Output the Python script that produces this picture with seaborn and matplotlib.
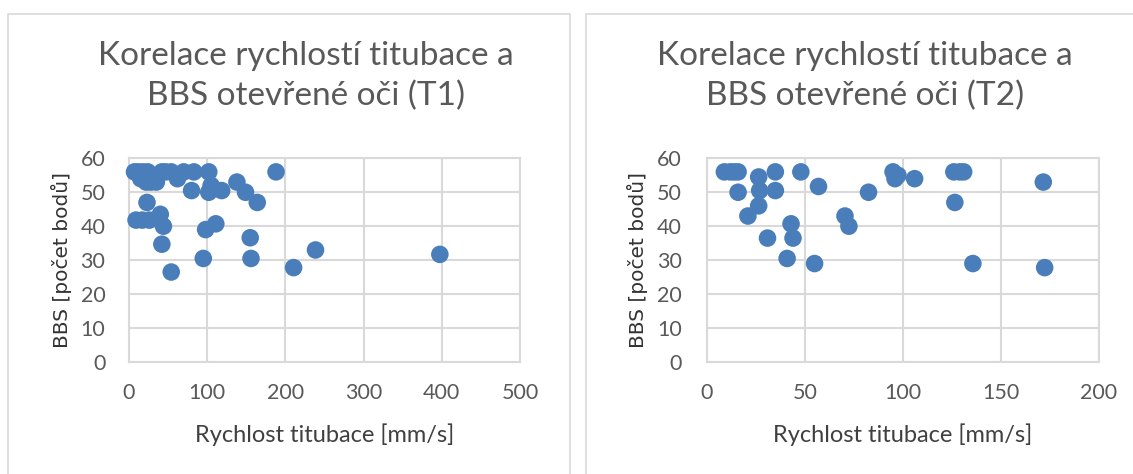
import matplotlib
matplotlib.use("Agg")
import matplotlib.pyplot as plt
import seaborn as sns
import pandas as pd
from matplotlib.patches import Rectangle

# ---------------- data ----------------
t1_speed = [7, 12, 18, 24, 42, 47, 54, 70, 83, 102, 188,
            15, 22, 28, 35, 62,
            80, 102, 105, 118.5, 138, 149, 164,
            23, 9, 17, 26, 40, 44, 42, 54, 98, 111, 95, 155, 156, 210.5, 238.5, 397.5]
t1_bbs = [56, 56, 56, 56, 56, 56, 56, 56, 56, 56, 56,
          54, 53, 53, 53, 54,
          50.5, 50, 52, 50.5, 53, 50, 47,
          47, 41.8, 41.8, 41.8, 43.5, 40, 34.7, 26.5, 39, 40.7, 30.5, 36.6, 30.5, 27.8, 33, 31.7]

t2_speed = [9, 12, 14, 16, 16, 26.5, 27, 26.5, 21, 35, 35, 31, 43, 44, 41, 48, 57, 55,
            70.5, 72.5, 82.5, 95, 96, 97.5, 106, 126, 129, 131, 126.5, 135.7, 171.6, 172.3]
t2_bbs = [56, 56, 56, 56, 50, 54.5, 50.5, 46, 43, 56, 50.5, 36.5, 40.7, 36.5, 30.5, 56, 51.7, 29,
          43, 40, 50, 56, 54, 55, 54, 56, 56, 56, 47, 29, 53, 27.8]

titles = ["Korelace rychlostí titubace a\nBBS otevřené oči (T1)",
          "Korelace rychlostí titubace a\nBBS otevřené oči (T2)"]
x_label = "Rychlost titubace [mm/s]"
y_label = "BBS [počet bodů]"
x_ticks = [[0, 100, 200, 300, 400, 500], [0, 50, 100, 150, 200]]
y_ticks = [0, 10, 20, 30, 40, 50, 60]

# ---------------- style ----------------
sns.set_theme(style="white")
plt.rcParams['font.family'] = ['Lato', 'DejaVu Sans']

W, H = 1133, 474
fig = plt.figure(figsize=(W / 100, H / 100), dpi=100)
fig.patch.set_facecolor("white")

frame_col = "#d9d9d9"
grid_col = "#d9d9d9"
text_col = "#595959"
dot_col = "#4a7ebb"

# chart frames
fig.add_artist(Rectangle((8 / W, -0.05), (570 - 8) / W, 1.05 - 14 / H, transform=fig.transFigure,
                         fill=False, edgecolor=frame_col, linewidth=1.2, clip_on=False))
fig.add_artist(Rectangle((586 / W, -0.05), 0.6, 1.05 - 14 / H, transform=fig.transFigure,
                         fill=False, edgecolor=frame_col, linewidth=1.2, clip_on=False))

axes_px = [(129, 520), (706.7, 1099)]
top_px, bot_px = 158.3, 362
data = [(t1_speed, t1_bbs), (t2_speed, t2_bbs)]
title_x = [306, 865]
ylabel_x = [62, 637]
ypads = [17, 18]

for i, ((l, r), (xs, ys)) in enumerate(zip(axes_px, data)):
    ax = fig.add_axes([l / W, 1 - bot_px / H, (r - l) / W, (bot_px - top_px) / H])
    df = pd.DataFrame({"x": xs, "y": ys})
    sns.scatterplot(data=df, x="x", y="y", ax=ax, s=160, color=dot_col,
                    edgecolor="none", linewidth=0, zorder=3, clip_on=False)
    ax.set_xlim(x_ticks[i][0], x_ticks[i][-1])
    ax.set_ylim(0, 60)
    ax.set_xticks(x_ticks[i])
    ax.set_yticks(y_ticks)
    ax.grid(True, color=grid_col, linewidth=1.5)
    ax.set_axisbelow(True)
    for sp in ax.spines.values():
        sp.set_color(grid_col)
        sp.set_linewidth(1.5)
    ax.tick_params(axis="both", length=0, labelsize=15.5, labelcolor=text_col)
    ax.tick_params(axis="x", pad=15)
    ax.tick_params(axis="y", pad=ypads[i])
    ax.set_xlabel(x_label, fontsize=17, color="#404040")
    ax.set_ylabel(y_label, fontsize=14.5, color="#333333", family=["DejaVu Sans"])
    ax.yaxis.set_label_coords(-(l - ylabel_x[i]) / (r - l), 0.5)
    ax.xaxis.set_label_coords(0.5, -(435 - bot_px) / (bot_px - top_px))
    ax.xaxis.label.set_va("center")
    ax.yaxis.label.set_va("center")
    fig.text(title_x[i] / W, 1 - 76 / H, titles[i], ha="center", va="center",
             fontsize=24, color=text_col, linespacing=1.38)

fig.savefig("out.png", dpi=100, facecolor="white")
